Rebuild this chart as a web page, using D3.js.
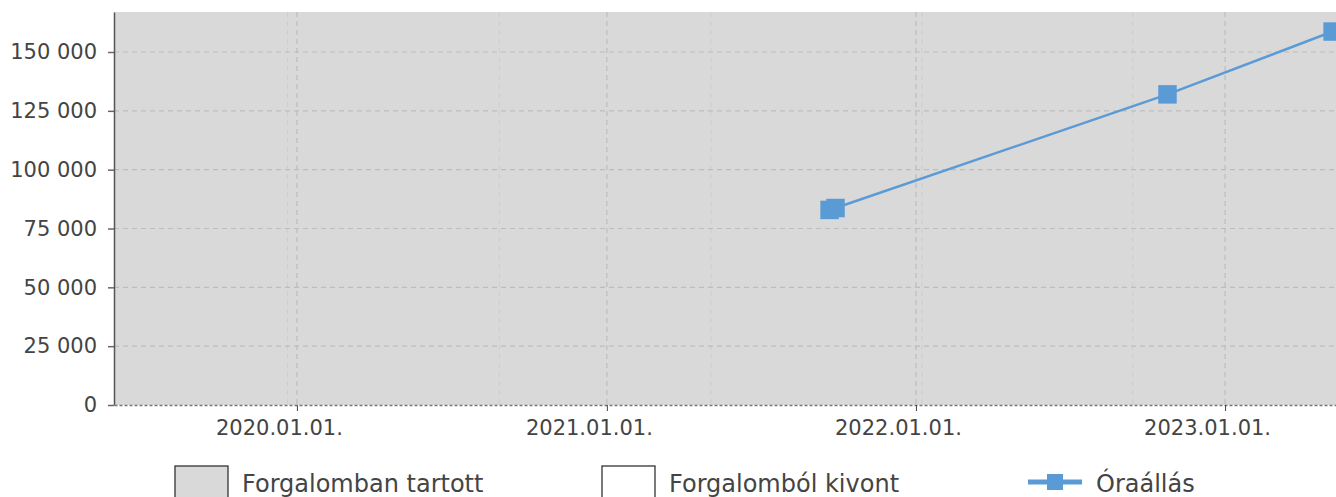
<!DOCTYPE html>
<html lang="hu">
<head>
<meta charset="UTF-8">
<script src="https://d3js.org/d3.v7.min.js"></script>
<style>
  html, body { margin: 0; padding: 0; background: #fff; }
  svg { display: block; font-family: "DejaVu Sans", sans-serif; }
</style>
</head>
<body>
<svg id="chart" width="1336" height="497"></svg>
<script>
// Óraállás adatok
const readDates = ["2021-09-21", "2021-09-28", "2022-10-25", "2023-05-08"];
const readValues = [82900, 83700, 132000, 158700];

// tengelyek
const yTicks = [0, 25000, 50000, 75000, 100000, 125000, 150000];
const xTickDates = ["2020-01-01", "2021-01-01", "2022-01-01", "2023-01-01"];
const minorGridDates = ["2019-12-21", "2020-08-27", "2021-05-04", "2022-01-08", "2022-09-14"];
const xDomain = ["2019-05-30", "2023-05-12"];
const yMax = 167000;

const legendLabels = ["Forgalomban tartott", "Forgalomból kivont", "Óraállás"];

const parse = d3.timeParse("%Y-%m-%d");
const hu = d3.formatLocale({ decimal: ",", thousands: " ", grouping: [3], currency: ["", " Ft"] });
const fmtNum = hu.format(",d");
const fmtDate = d3.timeFormat("%Y.%m.%d.");

const W = 1336, H = 497;
const m = { left: 114, top: 12, right: 0, bottom: 92 };
const lineColor = "#5b9bd5";
const textColor = "#444";

const svg = d3.select("#chart");

const x = d3.scaleTime().domain(xDomain.map(parse)).range([m.left, W - m.right]);
const y = d3.scaleLinear().domain([0, yMax]).range([H - m.bottom, m.top]);

// háttér
svg.append("rect")
  .attr("x", m.left).attr("y", m.top)
  .attr("width", W - m.right - m.left).attr("height", H - m.bottom - m.top)
  .attr("fill", "#d9d9d9");

// halvány rácsvonalak
svg.append("g").selectAll("line").data(minorGridDates.map(parse)).join("line")
  .attr("x1", d => x(d)).attr("x2", d => x(d))
  .attr("y1", m.top).attr("y2", H - m.bottom)
  .attr("stroke", "#cdcdcd").attr("stroke-width", 1)
  .attr("stroke-dasharray", "5,4");

// függőleges rács
svg.append("g").selectAll("line").data(xTickDates.map(parse)).join("line")
  .attr("x1", d => x(d)).attr("x2", d => x(d))
  .attr("y1", m.top).attr("y2", H - m.bottom)
  .attr("stroke", "#bdbdbd").attr("stroke-width", 1.2)
  .attr("stroke-dasharray", "5,4");

// vízszintes rács
svg.append("g").selectAll("line").data(yTicks.filter(d => d > 0)).join("line")
  .attr("x1", m.left).attr("x2", W - m.right)
  .attr("y1", d => y(d)).attr("y2", d => y(d))
  .attr("stroke", "#bdbdbd").attr("stroke-width", 1.2)
  .attr("stroke-dasharray", "5,4");

// y tengely
const yAxis = svg.append("g")
  .attr("transform", `translate(${m.left},0)`)
  .call(d3.axisLeft(y).tickValues(yTicks).tickFormat(fmtNum)
    .tickSizeInner(6).tickSizeOuter(0).tickPadding(11));
yAxis.select(".domain").attr("stroke", "#555").attr("stroke-width", 1.5);
yAxis.selectAll(".tick line").attr("stroke", "#666").attr("stroke-width", 1.5);
yAxis.selectAll(".tick text").attr("fill", textColor).attr("font-size", "21px")
  .attr("font-family", "DejaVu Sans");

// x tengely
const xAxis = svg.append("g")
  .attr("transform", `translate(0,${H - m.bottom})`)
  .call(d3.axisBottom(x).tickValues(xTickDates.map(parse)).tickFormat(fmtDate)
    .tickSizeInner(6).tickSizeOuter(0).tickPadding(9));
xAxis.select(".domain").attr("stroke", "#777").attr("stroke-width", 1.5)
  .attr("stroke-dasharray", "3,2");
xAxis.selectAll(".tick line").attr("stroke", "#444").attr("stroke-width", 1);
xAxis.selectAll(".tick text").attr("fill", textColor).attr("font-size", "21px")
  .attr("font-family", "DejaVu Sans").attr("dx", -18);

// Óraállás vonal
const pts = readDates.map((d, i) => ({ date: parse(d), value: readValues[i] }));
svg.append("path")
  .datum(pts.slice(1))
  .attr("fill", "none")
  .attr("stroke", lineColor)
  .attr("stroke-width", 2.5)
  .attr("d", d3.line().x(d => x(d.date)).y(d => y(d.value)));

const sq = 18.5;
svg.append("g").selectAll("rect").data(pts).join("rect")
  .attr("x", d => x(d.date) - sq / 2).attr("y", d => y(d.value) - sq / 2)
  .attr("width", sq).attr("height", sq)
  .attr("fill", lineColor);

// jelmagyarázat
const legendX = [175, 602, 1028];
const lg = svg.append("g");
legendLabels.forEach((label, i) => {
  const g = lg.append("g").attr("transform", `translate(${legendX[i]},0)`);
  if (i < 2) {
    g.append("rect")
      .attr("x", 0).attr("y", 466).attr("width", 53).attr("height", 53)
      .attr("fill", i === 0 ? "#d9d9d9" : "#fff")
      .attr("stroke", "#333").attr("stroke-width", 1.3);
    g.append("text").attr("x", 67).attr("y", 492)
      .attr("font-size", "24px").attr("fill", textColor).text(label);
  } else {
    g.append("line").attr("x1", 0).attr("x2", 54).attr("y1", 482).attr("y2", 482)
      .attr("stroke", lineColor).attr("stroke-width", 5);
    g.append("rect").attr("x", 19).attr("y", 474).attr("width", 16).attr("height", 16)
      .attr("fill", lineColor);
    g.append("text").attr("x", 68).attr("y", 492)
      .attr("font-size", "24px").attr("fill", textColor).text(label);
  }
});
</script>
</body>
</html>
